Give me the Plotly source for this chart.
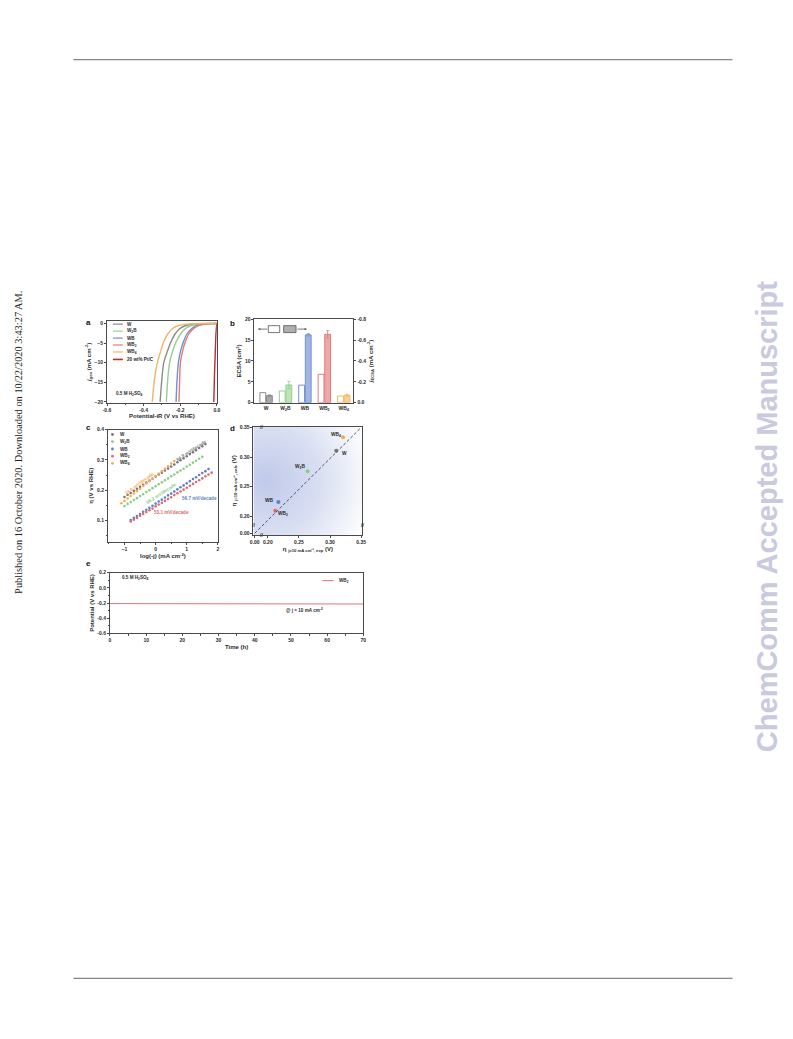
import base64
import plotly.graph_objects as go

# page is rendered inside an HTML body with an 8px default margin
BODY_M = 8
PW, PH = 793 - 2 * BODY_M, 1039 - 2 * BODY_M
F = "Liberation Sans"
TXT = "#2a2a2a"


def px(x):
    return (x - BODY_M) / PW


def py(y):
    return 1 - (y - BODY_M) / PH


# ---------------- Panel a: LSV curves ----------------
lsv_names = ["W", "W<sub>2</sub>B", "WB", "WB<sub>2</sub>", "WB<sub>4</sub>", "20 wt% Pt/C"]
lsv_colors = ["#8a8a8a", "#92cf8c", "#7390d2", "#e27b7b", "#f6b566", "#c0282d"]
v_W = [0.0, -0.09, -0.13, -0.17, -0.205, -0.23, -0.25, -0.268, -0.29, -0.30, -0.31]
v_W2B = [0.0, -0.06, -0.10, -0.14, -0.175, -0.20, -0.222, -0.24, -0.258, -0.268, -0.276]
v_WB = [0.0, -0.03, -0.07, -0.11, -0.14, -0.165, -0.182, -0.197, -0.21, -0.217, -0.223]
v_WB2 = [0.0, -0.02, -0.06, -0.10, -0.13, -0.155, -0.172, -0.186, -0.199, -0.203, -0.207]
v_WB4 = [0.0, -0.12, -0.17, -0.21, -0.245, -0.27, -0.29, -0.305, -0.325, -0.34, -0.353]
j_W = [0.0, -0.02, -0.15, -0.5, -1.4, -2.8, -4.6, -6.8, -10.0, -14.0, -20.0]
j_W2B = [0.0, -0.02, -0.15, -0.5, -1.4, -2.8, -4.6, -6.8, -10.0, -14.0, -20.0]
j_WB = [0.0, -0.02, -0.15, -0.5, -1.4, -2.8, -4.6, -6.8, -10.0, -14.0, -20.0]
j_WB2 = [0.0, -0.02, -0.15, -0.5, -1.4, -2.8, -4.6, -6.8, -10.0, -14.0, -20.0]
j_WB4 = [0.0, -0.02, -0.15, -0.5, -1.4, -2.8, -4.6, -6.8, -10.0, -14.0, -20.0]
v_PtC = [0.005, 0.0, -0.004, -0.007, -0.010, -0.013, -0.015, -0.017]
j_PtC = [0.0, -0.3, -2.0, -5.0, -9.0, -13.0, -17.0, -20.0]

# ---------------- Panel b: ECSA bars ----------------
cats = ["W", "W<sub>2</sub>B", "WB", "WB<sub>2</sub>", "WB<sub>4</sub>"]
ecsa = [2.4, 2.8, 4.2, 6.8, 1.6]
j_ecsa = [-0.068, -0.17, -0.65, -0.655, -0.072]
j_ecsa_err = [0.006, 0.035, 0.012, 0.035, 0.008]
bar_line = ["#8a8a8a", "#92cf8c", "#7390d2", "#e27b7b", "#f6b566"]
bar_fill = ["#a8a8a8", "#bfe3b9", "#a3b6e0", "#f0a7a7", "#f9cf98"]

# ---------------- Panel c: Tafel plots ----------------
taf_names = ["W", "W<sub>2</sub>B", "WB", "WB<sub>2</sub>", "WB<sub>4</sub>"]
taf_colors = ["#777777", "#8ccc86", "#5d7fcc", "#e06a6a", "#f5ad55"]
tx_W = [-1.0, -0.9, -0.8, -0.7, -0.6, -0.5, -0.4, -0.3, -0.2, -0.1, 0.0, 0.1, 0.2, 0.3,
        0.4, 0.5, 0.6, 0.7, 0.8, 0.9, 1.0, 1.1, 1.2, 1.3, 1.4, 1.5, 1.6]
ty_W = [0.178, 0.185, 0.191, 0.198, 0.205, 0.211, 0.218, 0.225, 0.232, 0.238, 0.245, 0.252,
        0.258, 0.265, 0.272, 0.278, 0.285, 0.292, 0.299, 0.305, 0.312, 0.319, 0.325, 0.332,
        0.339, 0.345, 0.352]
tx_W2B = [-1.0, -0.9, -0.8, -0.7, -0.6, -0.5, -0.4, -0.3, -0.2, -0.1, 0.0, 0.1, 0.2, 0.3,
          0.4, 0.5, 0.6, 0.7, 0.8, 0.9, 1.0, 1.1, 1.2, 1.3, 1.4, 1.5]
ty_W2B = [0.148, 0.155, 0.161, 0.168, 0.174, 0.181, 0.187, 0.194, 0.200, 0.207, 0.213, 0.220,
          0.226, 0.233, 0.239, 0.246, 0.252, 0.259, 0.265, 0.271, 0.278, 0.284, 0.291, 0.297,
          0.304, 0.310]
tx_WB = [-0.8, -0.7, -0.6, -0.5, -0.4, -0.3, -0.2, -0.1, 0.0, 0.1, 0.2, 0.3, 0.4, 0.5,
         0.6, 0.7, 0.8, 0.9, 1.0, 1.1, 1.2, 1.3, 1.4, 1.5, 1.6, 1.7]
ty_WB = [0.102, 0.109, 0.115, 0.122, 0.129, 0.136, 0.142, 0.149, 0.156, 0.163, 0.169, 0.176,
         0.183, 0.189, 0.196, 0.203, 0.210, 0.216, 0.223, 0.230, 0.237, 0.243, 0.250, 0.257,
         0.263, 0.270]
tx_WB2 = [-0.8, -0.7, -0.6, -0.5, -0.4, -0.3, -0.2, -0.1, 0.0, 0.1, 0.2, 0.3, 0.4, 0.5,
          0.6, 0.7, 0.8, 0.9, 1.0, 1.1, 1.2, 1.3, 1.4, 1.5, 1.6, 1.7, 1.8]
ty_WB2 = [0.097, 0.103, 0.109, 0.116, 0.122, 0.128, 0.134, 0.140, 0.147, 0.153, 0.159, 0.165,
          0.171, 0.177, 0.184, 0.190, 0.196, 0.202, 0.208, 0.215, 0.221, 0.227, 0.233, 0.239,
          0.246, 0.252, 0.258]
tx_WB4 = [-1.1, -1.0, -0.9, -0.8, -0.7, -0.6, -0.5, -0.4, -0.3, -0.2, -0.1, 0.0, 0.1, 0.2,
          0.3, 0.4, 0.5, 0.6]
ty_WB4 = [0.157, 0.165, 0.173, 0.181, 0.189, 0.197, 0.205, 0.214, 0.222, 0.230, 0.238, 0.247,
          0.255, 0.263, 0.271, 0.279, 0.288, 0.296]
slopes = ["64.9 mV/decade", "58.2 mV/decade", "56.7 mV/decade", "53.1 mV/decade", "74.8 mV/decade"]

# ---------------- Panel d: parity plot ----------------
d_names = ["WB<sub>4</sub>", "W", "W<sub>2</sub>B", "WB", "WB<sub>2</sub>"]
d_colors = ["#f6a850", "#777777", "#8ccc86", "#5d7fcc", "#e06a6a"]
eta_exp = [0.321, 0.310, 0.264, 0.217, 0.212]
eta_calc = [0.334, 0.311, 0.276, 0.224, 0.209]

# ---------------- Panel e: stability ----------------
t_h = [0, 5, 10, 15, 20, 23, 25, 30, 35, 40, 45, 50, 55, 60, 65, 70]
pot_e = [-0.208, -0.209, -0.209, -0.210, -0.210, -0.214, -0.210, -0.210, -0.211, -0.211,
         -0.211, -0.212, -0.212, -0.212, -0.213, -0.213]

fig = go.Figure()

# panel a traces
for vv, jj, name, col in zip([v_W, v_W2B, v_WB, v_WB2, v_WB4, v_PtC],
                             [j_W, j_W2B, j_WB, j_WB2, j_WB4, j_PtC], lsv_names, lsv_colors):
    fig.add_trace(go.Scatter(x=vv, y=jj, mode="lines", name=name, showlegend=False,
                             line=dict(color=col, width=1.4, shape="spline", smoothing=0.8),
                             xaxis="x", yaxis="y"))

# panel b traces
for i, c in enumerate(cats):
    fig.add_trace(go.Bar(x=[c], y=[ecsa[i]], xaxis="x2", yaxis="y2", offsetgroup="1",
                         marker=dict(color="white", line=dict(color=bar_line[i], width=1)),
                         showlegend=False))
    fig.add_trace(go.Bar(x=[c], y=[j_ecsa[i]], xaxis="x2", yaxis="y6", offsetgroup="2",
                         marker=dict(color=bar_fill[i], line=dict(color=bar_line[i], width=1)),
                         error_y=dict(type="data", array=[j_ecsa_err[i]], color=bar_line[i],
                                      thickness=0.8, width=1.5),
                         showlegend=False))

# panel c traces
for xx, yy, name, col in zip([tx_W, tx_W2B, tx_WB, tx_WB2, tx_WB4],
                             [ty_W, ty_W2B, ty_WB, ty_WB2, ty_WB4], taf_names, taf_colors):
    fig.add_trace(go.Scatter(x=xx, y=yy, mode="markers", name=name, showlegend=False,
                             marker=dict(color=col, size=2.6, symbol="circle"),
                             xaxis="x3", yaxis="y3"))

# panel d traces
fig.add_trace(go.Scatter(x=eta_exp, y=eta_calc, mode="markers", showlegend=False,
                         marker=dict(color=d_colors, size=4),
                         xaxis="x4", yaxis="y4"))

# panel e trace
fig.add_trace(go.Scatter(x=t_h, y=pot_e, mode="lines", showlegend=False,
                         line=dict(color="#e57373", width=1), xaxis="x5", yaxis="y5"))


def axis(domain, **kw):
    d = dict(domain=domain, showline=True, linecolor="#4a4a4a", linewidth=1, mirror=True,
             ticks="outside", ticklen=2, tickwidth=0.8, tickcolor="#4a4a4a",
             showgrid=False, zeroline=False,
             tickfont=dict(size=5, family=F, color=TXT, weight="bold"),
             title=dict(font=dict(size=6, family=F, color=TXT, weight="bold"), standoff=2))
    for k, v in kw.items():
        if k == "title_text":
            d["title"]["text"] = v
        elif k == "standoff":
            d["title"]["standoff"] = v
        else:
            d[k] = v
    return d


dom_a = ([px(104), px(215)], [py(402), py(320)])
dom_b = ([px(253), px(353)], [py(402), py(318)])
dom_c = ([px(105), px(216)], [py(542), py(429)])
dom_d = ([px(252), px(362)], [py(535), py(426)])
dom_e = ([px(107), px(363)], [py(634), py(573)])

layout = dict(
    width=PW, height=PH, margin=dict(l=0, r=0, t=0, b=0),
    paper_bgcolor="white", plot_bgcolor="rgba(0,0,0,0)",
    barmode="group", bargap=0.32, bargroupgap=0.12,
    font=dict(family=F, color=TXT, size=5),
    xaxis=axis(dom_a[0], anchor="y", range=[-0.6, 0.0], tickvals=[-0.6, -0.4, -0.2, 0.0],
               ticktext=["-0.6", "-0.4", "-0.2", "0.0"],
               minor=dict(ticks="outside", ticklen=1.2, dtick=0.1, tickcolor="#4a4a4a"),
               title_text="Potential-iR (V vs RHE)"),
    yaxis=axis(dom_a[1], anchor="x", range=[-20.2, 0.6], tickvals=[-20, -15, -10, -5, 0],
               title_text="<i>j</i><sub>geo</sub> (mA cm<sup>-2</sup>)"),
    xaxis2=axis(dom_b[0], anchor="y2", type="category", range=[-0.6, 4.5], ticks=""),
    yaxis2=axis(dom_b[1], anchor="x2", range=[0, 20], tickvals=[0, 5, 10, 15, 20],
                mirror=False, title_text="ECSA (cm<sup>2</sup>)"),
    yaxis6=axis(dom_b[1], anchor="x2", overlaying="y2", side="right", range=[0, -0.8],
                tickvals=[0, -0.2, -0.4, -0.6, -0.8], ticktext=["0.0", "-0.2", "-0.4", "-0.6", "-0.8"],
                mirror=False, title_text="<i>j</i><sub>ECSA</sub> (mA cm<sup>-2</sup>)"),
    xaxis3=axis(dom_c[0], anchor="y3", range=[-1.53, 2.0], tickvals=[-1, 0, 1, 2],
                minor=dict(ticks="outside", ticklen=1.2, dtick=0.5, tickcolor="#4a4a4a"),
                title_text="log(-j) (mA cm<sup>-2</sup>)"),
    yaxis3=axis(dom_c[1], anchor="x3", range=[0.03, 0.4], tickvals=[0.1, 0.2, 0.3, 0.4],
                minor=dict(ticks="outside", ticklen=1.2, dtick=0.05, tickcolor="#4a4a4a"),
                title_text="η (V vs RHE)"),
    xaxis4=axis(dom_d[0], anchor="y4", range=[0.177, 0.352],
                tickvals=[0.179, 0.20, 0.25, 0.30, 0.35],
                ticktext=["0.00", "0.20", "0.25", "0.30", "0.35"],
                title_text="η <sub>j=10 mA cm⁻², exp</sub> (V)"),
    yaxis4=axis(dom_d[1], anchor="x4", range=[0.168, 0.352],
                tickvals=[0.171, 0.20, 0.25, 0.30, 0.35],
                ticktext=["0.00", "0.20", "0.25", "0.30", "0.35"],
                title_text="η <sub>j=10 mA cm⁻², calc</sub> (V)"),
    xaxis5=axis(dom_e[0], anchor="y5", range=[0, 70], dtick=10,
                minor=dict(ticks="outside", ticklen=1.2, dtick=5, tickcolor="#4a4a4a"),
                title_text="Time (h)"),
    yaxis5=axis(dom_e[1], anchor="x5", range=[-0.6, 0.2], tickvals=[-0.6, -0.4, -0.2, 0.0, 0.2],
                ticktext=["-0.6", "-0.4", "-0.2", "0.0", "0.2"],
                minor=dict(ticks="outside", ticklen=1.2, dtick=0.1, tickcolor="#4a4a4a"),
                title_text="Potential (V vs RHE)"),
)
fig.update_layout(**layout)

shapes = []
ann = []


def text(x, y, s, size=5, color=TXT, xanchor="left", angle=0, bold=True, fam=F, **kw):
    a = dict(x=x, y=y, text=s, showarrow=False, xanchor=xanchor, yanchor="middle",
             textangle=angle,
             font=dict(size=size, family=fam, color=color, weight="bold" if bold else "normal"))
    a.setdefault("xref", "paper")
    a.setdefault("yref", "paper")
    a.update(kw)
    ann.append(a)


# page rules
for yy in (57, 981):
    shapes.append(dict(type="line", xref="paper", yref="paper", x0=px(70), x1=px(736),
                       y0=py(yy), y1=py(yy), line=dict(color="#666", width=1)))

# side texts
text(px(14.5), py(442), "Published on 16 October 2020. Downloaded on 10/22/2020 3:43:27 AM.",
     size=10.4, color="#222", xanchor="center", angle=-90, bold=False, fam="Liberation Serif")
text(px(771), py(517), "ChemComm Accepted Manuscript", size=29, color="#c9c9df",
     xanchor="center", angle=-90)

# panel letters
for lab, (lx, ly) in zip("abcde", [(85, 321), (231, 322), (85, 427), (231, 428), (85, 564)]):
    text(px(lx), py(ly), lab, size=8, color="#111", xanchor="center")

# panel a legend
rows_a = [323, 330, 337, 344, 351, 358.5]
for r, name, col in zip(rows_a, lsv_names, lsv_colors):
    shapes.append(dict(type="line", xref="paper", yref="paper", x0=px(110), x1=px(120),
                       y0=py(r), y1=py(r), line=dict(color=col, width=1.6 if "Pt" in name else 1.2)))
    text(px(122.5), py(r), name, size=4.6)
text(px(111), py(393.5), "0.5 M H<sub>2</sub>SO<sub>4</sub>", size=4.6)

# panel b legend boxes & arrows
shapes.append(dict(type="rect", xref="paper", yref="paper", x0=px(267), x1=px(278.5),
                   y0=py(331.5), y1=py(324.5), line=dict(color="#555", width=0.8), fillcolor="white"))
shapes.append(dict(type="rect", xref="paper", yref="paper", x0=px(282.5), x1=px(295),
                   y0=py(331.5), y1=py(324.5), line=dict(color="#555", width=0.8), fillcolor="#b0b0b0"))
ann.append(dict(xref="paper", yref="paper", x=px(256.5), y=py(328), ax=11, ay=0, text="",
                showarrow=True, arrowhead=2, arrowsize=0.6, arrowwidth=0.8, arrowcolor="#555"))
ann.append(dict(xref="paper", yref="paper", x=px(306), y=py(328), ax=-11, ay=0, text="",
                showarrow=True, arrowhead=2, arrowsize=0.6, arrowwidth=0.8, arrowcolor="#555"))

# panel c legend
rows_c = [434, 441.3, 448.6, 455.8, 463]
for r, name, col in zip(rows_c, taf_names, taf_colors):
    fig.add_trace(go.Scatter(x=[px(109.5)], y=[py(r)], mode="markers", showlegend=False,
                             marker=dict(color=col, size=2.8), xaxis="x9", yaxis="y9",
                             hoverinfo="skip"))
    text(px(115.5), py(r), name, size=4.6)
# slope labels
text(-0.52, 0.222, slopes[4], size=4.6, color="#f5ad55", xanchor="center", angle=-36,
     xref="x3", yref="y3")
text(1.15, 0.330, slopes[0], size=4.6, color="#808080", xanchor="center", angle=-33,
     xref="x3", yref="y3")
text(0.18, 0.188, slopes[1], size=4.6, color="#8ccc86", xanchor="center", angle=-33,
     xref="x3", yref="y3")
text(1.42, 0.172, slopes[2], size=4.6, color="#5d7fcc", xanchor="center", xref="x3", yref="y3")
text(0.52, 0.128, slopes[3], size=4.6, color="#e06a6a", xanchor="center", xref="x3", yref="y3")

# panel d decorations
shapes.append(dict(type="line", xref="x4 domain", yref="y4 domain", x0=0.012, y0=0.016,
                   x1=0.988, y1=0.99, line=dict(color="#4d5570", width=1, dash="3px,2px")))
dl_off = [(-0.011, 0.003), (0.013, -0.005), (-0.012, 0.007), (-0.014, 0.003), (0.012, -0.005)]
for name, xx, yy, (dx, dy) in zip(d_names, eta_exp, eta_calc, dl_off):
    text(xx + dx, yy + dy, name, size=4.8, xanchor="center", xref="x4", yref="y4")
for bx, by in [(0.19, 0.352), (0.19, 0.168)]:
    text(bx, by, "//", size=5, xanchor="center", xref="x4", yref="y4")
for bx, by in [(0.177, 0.185), (0.352, 0.185)]:
    text(bx, by, "//", size=5, xanchor="center", xref="x4", yref="y4")

# panel e decorations
text(px(117), py(578), "0.5 M H<sub>2</sub>SO<sub>4</sub>", size=4.6)
text(px(303.5), py(610.5), "@ j = 10 mA cm<sup>-2</sup>", size=4.6, xanchor="center")
shapes.append(dict(type="line", xref="paper", yref="paper", x0=px(321.5), x1=px(333),
                   y0=py(581), y1=py(581), line=dict(color="#e57373", width=1)))
text(px(336), py(581), "WB<sub>2</sub>", size=4.6)

# gradient background for panel d
svg = ('<svg xmlns="http://www.w3.org/2000/svg" width="200" height="200" preserveAspectRatio="none">'
       '<defs><radialGradient id="g" cx="0.12" cy="0.5" r="1.0">'
       '<stop offset="0" stop-color="#c0c9ea"/><stop offset="0.5" stop-color="#d9dff2"/>'
       '<stop offset="1" stop-color="#ffffff"/></radialGradient></defs>'
       '<rect width="200" height="200" fill="url(#g)"/></svg>')
src = "data:image/svg+xml;base64," + base64.b64encode(svg.encode()).decode()
images = [dict(source=src, xref="paper", yref="paper", x=dom_d[0][0], y=dom_d[1][1],
               sizex=dom_d[0][1] - dom_d[0][0], sizey=dom_d[1][1] - dom_d[1][0],
               xanchor="left", yanchor="top", sizing="stretch", layer="below")]

fig.update_layout(
    shapes=shapes, annotations=ann, images=images,
    xaxis9=dict(domain=[0, 1], range=[0, 1], visible=False, anchor="y9"),
    yaxis9=dict(domain=[0, 1], range=[0, 1], visible=False, anchor="x9"),
)

fig.write_html("out.html")
